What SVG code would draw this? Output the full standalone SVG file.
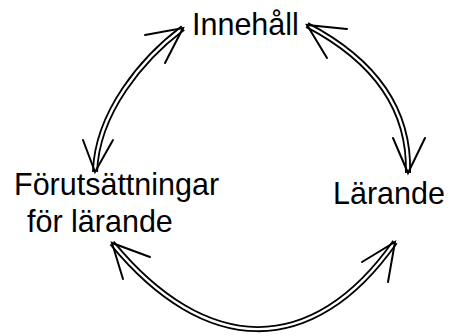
<svg xmlns="http://www.w3.org/2000/svg" width="460" height="336" viewBox="0 0 460 336">
<style>
.lbl{font-family:"Liberation Sans",Arial,sans-serif;font-size:30.5px;fill:#000}
.outer{fill:none;stroke:#000;stroke-width:6}
.inner{fill:none;stroke:#fff;stroke-width:2.4}
.head{fill:none;stroke:#000;stroke-width:2;stroke-linecap:round;stroke-linejoin:miter}
</style>
<rect width="460" height="336" fill="#fff"/>
<g id="connectors">
<g id="c1">
<path class="outer" d="M183,28 C143,58 97,112 95,172"/>
<path class="inner" d="M183,28 C143,58 97,112 95,172"/>
<path class="head" d="M145,35 L183,28 L165,63"/>
<path class="head" d="M83,140 L95,172 L113,140"/>
</g>
<g id="c2">
<path class="outer" d="M307,25 C370,58 410,105 408,173"/>
<path class="inner" d="M307,25 C370,58 410,105 408,173"/>
<path class="head" d="M347,29 L307,25 L327,58"/>
<path class="head" d="M393,138 L408,173 L425,138"/>
</g>
<g id="c3">
<path class="outer" d="M112,243 C205,356 312,360 395,242"/>
<path class="inner" d="M112,243 C205,356 312,360 395,242"/>
<path class="head" d="M150,257 L112,243 L123,279"/>
<path class="head" d="M362,262 L395,242 L388,282"/>
</g>
</g>
<g id="node-innehall"><text class="lbl" x="192" y="35">Innehåll</text></g>
<g id="node-forutsattningar"><text class="lbl" x="14" y="195">Förutsättningar</text><text class="lbl" x="27" y="232">för lärande</text></g>
<g id="node-larande"><text class="lbl" x="333" y="204">Lärande</text></g>
</svg>
